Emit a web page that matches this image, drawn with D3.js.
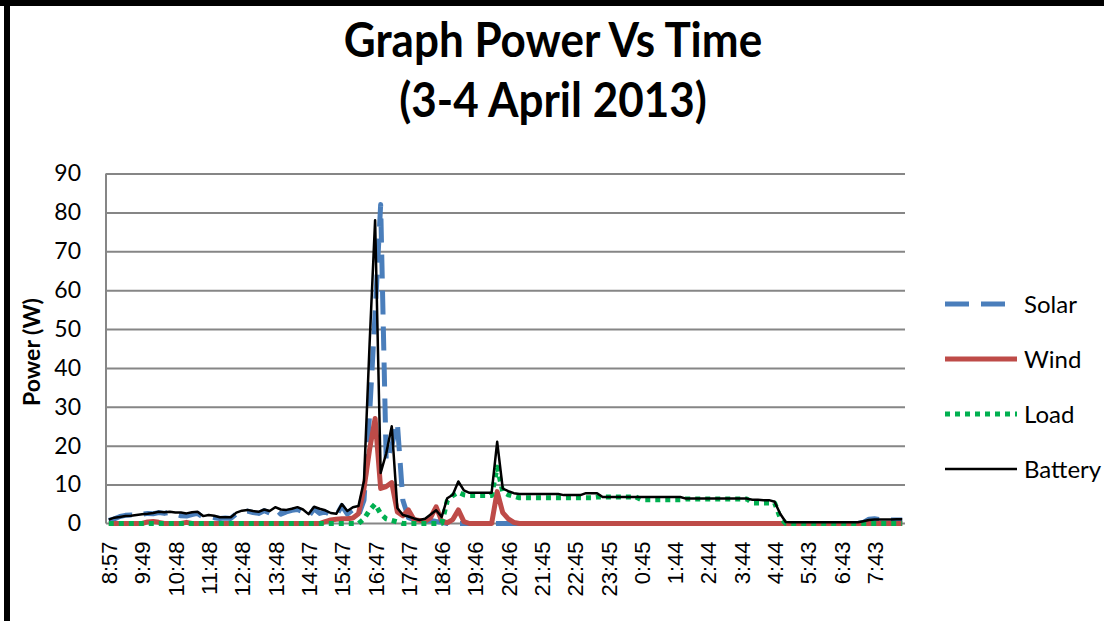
<!DOCTYPE html>
<html>
<head>
<meta charset="utf-8">
<script src="https://cdn.jsdelivr.net/npm/d3@7"></script>
<style>
    body { margin: 0; background: #fff; }
    svg { display: block; }
    .grid line { stroke: #868686; stroke-width: 2; }
    .grid .domain { display: none; }
    .axis-line { stroke: #868686; stroke-width: 2; }
    .ytick text { font-family: Lato, sans-serif; font-size: 23px; fill: #000; }
    .xtick text { font-family: "Liberation Sans", Arial, sans-serif; font-size: 22px; fill: #000; }
    .title { font-family: Lato, sans-serif; font-weight: bold; font-size: 44px; fill: #000; }
    .ytitle { font-family: Lato, sans-serif; font-weight: bold; font-size: 23px; fill: #000; }
    .legend text { font-family: Lato, sans-serif; font-size: 24px; fill: #000; }
</style>
</head>
<body>
<svg id="chart" width="1104" height="621"></svg>
<script>
// x axis labels, one every labelStep samples
const timeLabels = ["8:57", "9:49", "10:48", "11:48", "12:48", "13:48", "14:47", "15:47",
    "16:47", "17:47", "18:46", "19:46", "20:46", "21:45", "22:45", "23:45",
    "0:45", "1:44", "2:44", "3:44", "4:44", "5:43", "6:43", "7:43"];
const labelStep = 6;
const yTicks = [0, 10, 20, 30, 40, 50, 60, 70, 80, 90];

const solar = [
    0.8, 1.2, 1.8, 2.1, 2.2, 2.0, 2.4, 2.6, 2.5, 2.8,
    2.6, 2.9, 2.4, 2.0, 1.9, 2.3, 2.6, 1.6, 1.8, 1.5,
    1.3, 1.4, 1.3, 2.5, 3.0, 3.2, 2.8, 2.6, 3.3, 2.7,
    3.8, 2.4, 3.0, 3.4, 3.6, 3.0, 1.8, 3.8, 2.6, 3.0,
    2.2, 2.0, 4.6, 2.4, 3.6, 2.0, 6, 28, 54, 82,
    16, 20, 26, 6, 1.5, 1.0, 0.8, 0.6, 0.8, 0.5,
    0.3, 0, 0, 0, 0, 0, 0, 0, 0, 0,
    0, 0, 0, 0, 0, 0, 0, 0, 0, 0,
    0, 0, 0, 0, 0, 0, 0, 0, 0, 0,
    0, 0, 0, 0, 0, 0, 0, 0, 0, 0,
    0, 0, 0, 0, 0, 0, 0, 0, 0, 0,
    0, 0, 0, 0, 0, 0, 0, 0, 0, 0,
    0, 0, 0, 0, 0, 0, 0, 0, 0, 0,
    0, 0, 0, 0, 0, 0, 0.3, 1.1, 1.2, 1.0,
    0.9, 0.9, 0.9, 0.9
];
const wind = [
    0, 0, 0, 0, 0, 0, 0, 0.4, 0.5, 0.3,
    0, 0, 0, 0, 0.3, 0, 0, 0, 0, 0,
    0, 0, 0, 0, 0, 0, 0, 0, 0, 0,
    0, 0, 0, 0, 0, 0, 0, 0, 0, 0.5,
    0.9, 1.1, 1.2, 1.2, 1.4, 2.5, 9, 19, 27, 9,
    9.5, 10.5, 3, 2, 3.5, 1, 0.8, 0.6, 1.5, 4.3,
    0.6, 0.2, 1, 3.5, 0.5, 0, 0, 0, 0, 0,
    8.2, 2.8, 1.2, 0.3, 0, 0, 0, 0, 0, 0,
    0, 0, 0, 0, 0, 0, 0, 0, 0, 0,
    0, 0, 0, 0, 0, 0, 0, 0, 0, 0,
    0, 0, 0, 0, 0, 0, 0, 0, 0, 0,
    0, 0, 0, 0, 0, 0, 0, 0, 0, 0,
    0, 0, 0, 0, 0, 0, 0, 0, 0, 0,
    0, 0, 0, 0, 0, 0, 0, 0, 0, 0,
    0, 0, 0, 0
];
const load = [
    0, 0, 0, 0, 0, 0, 0, 0, 0, 0,
    0, 0, 0, 0, 0, 0, 0, 0, 0, 0,
    0, 0, 0, 0, 0, 0, 0, 0, 0, 0,
    0, 0, 0, 0, 0, 0, 0, 0, 0, 0,
    0, 0, 0, 0, 0, 0, 1.2, 3.4, 5.0, 2.5,
    1.2, 0.8, 0.4, 0, 0, 0, 0, 0, 0, 0,
    0, 5.8, 7.2, 8.0, 7.4, 7.2, 7.2, 7.2, 7.2, 7.2,
    14.5, 8.2, 7.4, 7.0, 6.6, 6.6, 6.6, 6.6, 6.6, 6.6,
    6.6, 6.6, 6.6, 6.6, 6.6, 6.6, 6.6, 6.6, 6.8, 6.8,
    6.8, 6.8, 6.8, 6.8, 6.8, 6.8, 6.1, 6.1, 6.1, 6.1,
    6.1, 6.1, 6.1, 6.1, 6.3, 6.3, 6.3, 6.3, 6.3, 6.3,
    6.3, 6.3, 6.3, 6.3, 6.3, 6.3, 5.3, 5.3, 5.3, 5.3,
    5.3, 1.5, 0, 0, 0, 0, 0, 0, 0, 0,
    0, 0, 0, 0, 0, 0, 0, 0, 0, 0,
    0, 0, 0, 0
];
const battery = [
    1.0, 1.5, 1.7, 1.9, 2.0, 2.2, 2.4, 2.5, 2.7, 3.0,
    2.9, 3.0, 2.8, 2.8, 2.6, 2.9, 3.0, 1.9, 2.2, 2.0,
    1.6, 1.6, 1.6, 2.8, 3.3, 3.5, 3.2, 3.0, 3.6, 3.2,
    4.2, 3.6, 3.5, 3.8, 4.2, 3.6, 2.4, 4.3, 3.8, 3.4,
    2.7, 2.5, 5.0, 3.2, 4.2, 4.5, 11, 46, 78, 13,
    18, 25, 4.0, 2.2, 1.8, 1.3, 0.9, 1.2, 2.3, 3.4,
    1.7, 6.5, 7.4, 10.8, 8.5, 7.9, 7.9, 7.9, 7.9, 7.9,
    21, 9.0, 8.3, 7.8, 7.6, 7.6, 7.6, 7.6, 7.6, 7.6,
    7.6, 7.6, 7.3, 7.3, 7.3, 7.3, 7.8, 7.8, 7.8, 6.8,
    6.8, 6.8, 6.8, 6.8, 6.8, 6.8, 6.8, 6.8, 6.8, 6.8,
    6.8, 6.8, 6.8, 6.8, 6.4, 6.4, 6.4, 6.4, 6.4, 6.4,
    6.4, 6.4, 6.4, 6.4, 6.4, 6.4, 6.1, 6.1, 6.0, 6.0,
    5.6, 2.5, 0.4, 0.3, 0.3, 0.3, 0.3, 0.3, 0.3, 0.3,
    0.3, 0.3, 0.3, 0.3, 0.3, 0.3, 0.6, 0.9, 1.0, 1.0,
    1.0, 1.0, 1.1, 1.1
];
const seriesNames = ["Solar", "Wind", "Load", "Battery"];

const PowerChart = {
    init: function() {
        this.svg = d3.select("#chart");
        this.plot = { left: 106, right: 905, top: 173.5, bottom: 523.5 };
        this.series = [
            { name: "Solar", values: solar, color: "#4a7ebb", width: 5, dash: "24,12" },
            { name: "Wind", values: wind, color: "#be4b48", width: 5, dash: null },
            { name: "Load", values: load, color: "#00b050", width: 5, dash: "5,5" },
            { name: "Battery", values: battery, color: "#000", width: 2.5, dash: null }
        ];
        this._buildScales();
        this._drawFrame();
        this._drawTitle();
        this._drawAxes();
        this._drawSeries();
        this._drawLegend();
    },
    _buildScales: function() {
        const p = this.plot;
        this.x = d3.scalePoint()
            .domain(d3.range(battery.length))
            .range([p.left, p.right])
            .padding(0.5);
        this.y = d3.scaleLinear()
            .domain([0, 90])
            .range([p.bottom, p.top]);
    },
    _drawFrame: function() {
        this.svg.append("line")
            .attr("x1", 0).attr("x2", 1104).attr("y1", 3).attr("y2", 3)
            .attr("stroke", "#000").attr("stroke-width", 6);
        this.svg.append("line")
            .attr("x1", 7).attr("x2", 7).attr("y1", 0).attr("y2", 621)
            .attr("stroke", "#000").attr("stroke-width", 6);
    },
    _drawTitle: function() {
        const t = this.svg.append("text")
            .attr("class", "title")
            .attr("text-anchor", "middle")
            .attr("transform", "translate(553,0) scale(1,1.08)");
        t.append("tspan").attr("x", 0).attr("y", 53).text("Graph Power Vs Time");
        t.append("tspan").attr("x", 0).attr("y", 108).text("(3-4 April 2013)");

        this.svg.append("text")
            .attr("class", "ytitle")
            .attr("text-anchor", "middle")
            .attr("transform", "translate(40,352) rotate(-90)")
            .text("Power (W)");
    },
    _drawAxes: function() {
        const p = this.plot;
        const w = p.right - p.left;

        // horizontal gridlines
        this.svg.append("g")
            .attr("class", "grid")
            .attr("transform", `translate(${p.left},0)`)
            .call(d3.axisLeft(this.y).tickValues(yTicks.slice(1)).tickSize(-w).tickFormat(""));

        const ya = this.svg.append("g")
            .attr("class", "ytick")
            .attr("transform", "translate(81,0)")
            .call(d3.axisLeft(this.y).tickValues(yTicks).tickSize(0).tickPadding(0));
        ya.select(".domain").remove();

        const xa = this.svg.append("g")
            .attr("class", "xtick")
            .attr("transform", `translate(0,${p.bottom})`)
            .call(d3.axisBottom(this.x)
                .tickValues(d3.range(0, battery.length, labelStep))
                .tickSize(0)
                .tickFormat(function(d) { return timeLabels[d / labelStep]; }));
        xa.select(".domain").remove();
        xa.selectAll("text")
            .attr("transform", "rotate(-90)")
            .attr("text-anchor", "end")
            .attr("x", -18)
            .attr("y", 0)
            .attr("dy", "0.36em");

        // axis lines
        this.svg.append("line")
            .attr("class", "axis-line")
            .attr("x1", p.left).attr("x2", p.left)
            .attr("y1", p.top).attr("y2", p.bottom);
        this.svg.append("line")
            .attr("class", "axis-line")
            .attr("x1", p.left).attr("x2", p.right)
            .attr("y1", p.bottom).attr("y2", p.bottom);
    },
    _drawSeries: function() {
        const x = this.x, y = this.y;
        const line = d3.line()
            .x(function(d, i) { return x(i); })
            .y(function(d) { return y(d); });

        this.svg.append("g")
            .selectAll("path")
            .data(this.series)
            .enter()
            .append("path")
            .attr("fill", "none")
            .attr("stroke", function(s) { return s.color; })
            .attr("stroke-width", function(s) { return s.width; })
            .attr("stroke-dasharray", function(s) { return s.dash; })
            .attr("stroke-linejoin", "round")
            .attr("d", function(s) { return line(s.values); });
    },
    _drawLegend: function() {
        const rowY = d3.scalePoint().domain(seriesNames).range([304, 469]);
        const item = this.svg.append("g")
            .attr("class", "legend")
            .selectAll("g")
            .data(this.series)
            .enter()
            .append("g")
            .attr("transform", function(s) { return "translate(0," + rowY(s.name) + ")"; });

        item.append("line")
            .attr("x1", 945).attr("x2", 1017)
            .attr("stroke", function(s) { return s.color; })
            .attr("stroke-width", function(s) { return s.width; })
            .attr("stroke-dasharray", function(s) { return s.dash; });

        item.append("text")
            .attr("x", 1024)
            .attr("dy", "0.36em")
            .text(function(s) { return s.name; });
    }
};

PowerChart.init();
</script>
</body>
</html>
